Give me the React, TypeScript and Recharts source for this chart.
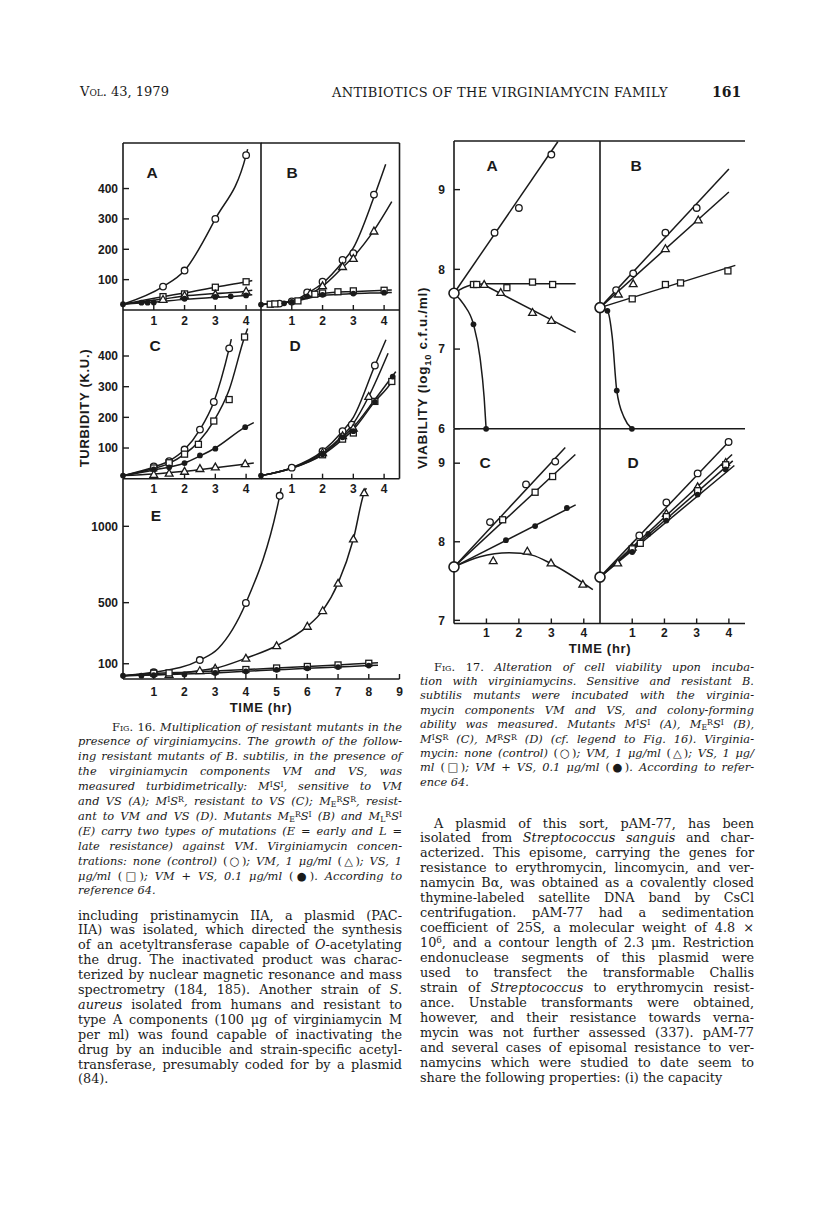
import React from 'react';
import { LineChart, Line, XAxis, YAxis, ReferenceLine } from 'recharts';

type Pt = [number, number];
type Mark = 'circle' | 'triangle' | 'square' | 'dot' | 'start';

const INK = '#1a1a1a';
const SANS = '"Liberation Sans", Arial, Helvetica, sans-serif';
const SERIF = '"DejaVu Serif", "Liberation Serif", serif';

// ---------- Fig. 16: turbidity (K.U.) against time (hr) ----------
const f16Hours = [1, 2, 3, 4];
const f16HoursE = [1, 2, 3, 4, 5, 6, 7, 8, 9];
const f16Turb = [100, 200, 300, 400];
const f16TurbE = [100, 500, 1000];

// panel A (M^I S^I)
const t16A_start: Pt[] = [[0, 19]];
const t16A_ctrl: Pt[] = [[1.3, 77], [2, 130], [3, 300], [4, 510]];
const t16A_ctrlFit: Pt[] = [[0, 19], [1.3, 77], [2, 130], [3, 300], [4, 510], [4.05, 530]];
const t16A_vs: Pt[] = [[1.3, 44], [2, 53], [3, 75], [4, 93]];
const t16A_vsFit: Pt[] = [[0, 19], [1.3, 44], [2, 56], [3, 75], [4, 93], [4.2, 97]];
const t16A_vm: Pt[] = [[1.3, 35], [2, 48], [3, 52], [4, 62]];
const t16A_vmFit: Pt[] = [[0, 19], [1.3, 36], [2, 46], [3, 54], [4, 62], [4.2, 65]];
const t16A_mix: Pt[] = [[0.6, 24], [0.8, 24], [1, 25], [2, 37], [3, 43], [3.5, 45], [4, 48]];
const t16A_mixFit: Pt[] = [[0, 19], [1, 26], [2, 35], [3, 42], [4, 48], [4.2, 50]];

// panel B (M_E^R S^I)
const t16B_start: Pt[] = [[0, 18]];
const t16B_ctrl: Pt[] = [[0.6, 21], [1, 28], [1.5, 58], [2, 93], [2.65, 165], [3, 187], [3.67, 380]];
const t16B_ctrlFit: Pt[] = [[0, 18], [1, 28], [1.5, 55], [2, 88], [2.65, 158], [3, 205], [3.67, 372], [4.05, 480]];
const t16B_vm: Pt[] = [[1.6, 55], [2, 80], [2.65, 143], [3, 170], [3.67, 260]];
const t16B_vmFit: Pt[] = [[0, 18], [1, 28], [1.5, 48], [2, 78], [2.65, 140], [3, 175], [3.67, 262], [4.25, 357]];
const t16B_vs: Pt[] = [[0.3, 19], [0.45, 20], [1.2, 30], [1.75, 52], [2, 56], [2.5, 60], [3, 63], [4, 65]];
const t16B_vsFit: Pt[] = [[0, 18], [1, 28], [2, 54], [3, 61], [4, 65], [4.25, 66]];
const t16B_mix: Pt[] = [[0.75, 22], [1, 27], [1.5, 45], [2, 50], [3, 54], [4, 57]];
const t16B_mixFit: Pt[] = [[0, 18], [1, 27], [2, 48], [3, 54], [4, 57], [4.25, 58]];

// panel C (M^I S^R)
const t16C_start: Pt[] = [[0, 10]];
const t16C_ctrl: Pt[] = [[1, 40], [1.5, 57], [2, 95], [2.5, 160], [2.95, 250], [3.45, 425]];
const t16C_ctrlFit: Pt[] = [[0, 10], [1, 38], [1.5, 58], [2, 95], [2.5, 160], [2.95, 250], [3.45, 425], [3.52, 455]];
const t16C_vs: Pt[] = [[1, 35], [1.5, 52], [2, 80], [2.45, 112], [2.95, 188], [3.45, 258], [3.95, 462]];
const t16C_vsFit: Pt[] = [[0, 10], [1, 33], [1.5, 50], [2, 80], [2.45, 120], [2.95, 188], [3.45, 290], [3.95, 462], [4.05, 490]];
const t16C_mix: Pt[] = [[1, 30], [1.5, 37], [2, 51], [2.5, 76], [3, 98], [3.97, 168]];
const t16C_mixFit: Pt[] = [[0, 10], [1, 28], [2, 51], [2.5, 74], [3, 100], [3.97, 168], [4.25, 183]];
const t16C_vm: Pt[] = [[1, 14], [1.5, 18], [2, 24], [2.5, 33], [3, 38], [3.97, 49]];
const t16C_vmFit: Pt[] = [[0, 10], [1, 15], [2, 24], [3, 36], [4, 48], [4.25, 51]];

// panel D (M_E^R S^R)
const t16D_start: Pt[] = [[0, 10]];
const t16D_ctrl: Pt[] = [[1, 36], [2, 90], [2.65, 155], [2.95, 176], [3.7, 369]];
const t16D_ctrlFit: Pt[] = [[0, 10], [1, 36], [2, 90], [2.65, 155], [3, 200], [3.7, 369], [4.06, 453]];
const t16D_vm: Pt[] = [[2, 85], [2.65, 140], [3, 165], [3.5, 268]];
const t16D_vmFit: Pt[] = [[0, 10], [1, 35], [2, 85], [2.65, 140], [3, 180], [3.5, 268], [4.13, 409]];
const t16D_vs: Pt[] = [[2, 78], [2.65, 129], [3, 149], [3.7, 252], [4.25, 317]];
const t16D_vsFit: Pt[] = [[0, 10], [1, 34], [2, 78], [2.65, 128], [3, 160], [3.7, 252], [4.25, 317], [4.32, 330]];
const t16D_mix: Pt[] = [[2, 80], [2.65, 135], [3, 155], [3.7, 250], [4.28, 333]];
const t16D_mixFit: Pt[] = [[0, 10], [1, 34], [2, 80], [2.65, 135], [3, 168], [3.7, 258], [4.38, 349]];

// panel E (M_L^R S^I)
const t16E_start: Pt[] = [[0, 22]];
const t16E_ctrl: Pt[] = [[1, 44], [2.5, 124], [4, 498], [5.1, 1200]];
const t16E_ctrlFit: Pt[] = [[0, 22], [1, 44], [2.5, 124], [3.1, 200], [4, 498], [5.1, 1200], [5.15, 1250]];
const t16E_vm: Pt[] = [[1.5, 30], [2.5, 55], [3, 70], [4, 136], [5, 218], [6, 345], [6.5, 448], [7, 627], [7.5, 917], [7.85, 1220]];
const t16E_vmFit: Pt[] = [[0, 22], [1, 28], [1.5, 32], [2.5, 55], [3, 70], [4, 136], [5, 218], [6, 345], [6.5, 448], [7, 627], [7.5, 917], [7.85, 1220], [7.92, 1250]];
const t16E_vs: Pt[] = [[1, 38], [1.5, 40], [3, 52], [4, 62], [5, 72], [6, 82], [7, 92], [8, 103]];
const t16E_vsFit: Pt[] = [[0, 22], [1, 36], [2, 45], [3, 53], [4, 62], [5, 72], [6, 82], [7, 92], [8, 103], [8.3, 106]];
const t16E_mix: Pt[] = [[0.6, 22], [1, 25], [2, 30], [3, 40], [4, 50], [5, 60], [6, 70], [7, 78], [8, 88]];
const t16E_mixFit: Pt[] = [[0, 22], [1, 26], [2, 32], [3, 40], [4, 50], [5, 60], [6, 70], [7, 79], [8, 88], [8.3, 90]];

// ---------- Fig. 17: viability (log10 c.f.u./ml) against time (hr) ----------
const f17Hours = [1, 2, 3, 4];
const f17LogTop = [6, 7, 8, 9];
const f17LogBottom = [7, 8, 9];

// panel A
const v17A_start: Pt[] = [[0, 7.7]];
const v17A_ctrl: Pt[] = [[1.25, 8.46], [2, 8.77], [3, 9.44]];
const v17A_ctrlFit: Pt[] = [[0, 7.7], [3.2, 9.6]];
const v17A_vs: Pt[] = [[0.6, 7.81], [0.7, 7.81], [1.63, 7.77], [2.42, 7.84], [3.04, 7.81]];
const v17A_vsFit: Pt[] = [[0, 7.7], [0.5, 7.8], [1, 7.82], [2, 7.82], [3, 7.82], [3.75, 7.82]];
const v17A_vm: Pt[] = [[0.93, 7.81], [1.44, 7.71], [2.42, 7.46], [3.0, 7.36]];
const v17A_vmFit: Pt[] = [[0.9, 7.81], [3.75, 7.21]];
const v17A_mix: Pt[] = [[0.6, 7.31], [0.99, 6.0]];
const v17A_mixFit: Pt[] = [[0, 7.7], [0.3, 7.56], [0.6, 7.31], [0.8, 6.9], [0.93, 6.39], [0.99, 6.0]];

// panel B
const v17B_start: Pt[] = [[0, 7.52]];
const v17B_ctrl: Pt[] = [[0.5, 7.74], [1.03, 7.95], [2.03, 8.46], [3, 8.77]];
const v17B_ctrlFit: Pt[] = [[0, 7.52], [4, 9.26]];
const v17B_vm: Pt[] = [[0.57, 7.69], [1.03, 7.82], [2.03, 8.26], [3.05, 8.62]];
const v17B_vmFit: Pt[] = [[0, 7.52], [4, 8.97]];
const v17B_vs: Pt[] = [[1, 7.63], [2.03, 7.81], [2.5, 7.83], [3.97, 7.98]];
const v17B_vsFit: Pt[] = [[0, 7.52], [4.2, 8.05]];
const v17B_mix: Pt[] = [[0.23, 7.48], [0.52, 6.48], [0.99, 6.0]];
const v17B_mixFit: Pt[] = [[0, 7.52], [0.23, 7.48], [0.38, 7.15], [0.52, 6.48], [0.75, 6.14], [0.99, 6.0]];

// panel C
const v17C_start: Pt[] = [[0, 7.68]];
const v17C_ctrl: Pt[] = [[1.11, 8.25], [2.22, 8.73], [3.12, 9.02]];
const v17C_ctrlFit: Pt[] = [[0, 7.68], [3.43, 9.2]];
const v17C_vs: Pt[] = [[1.5, 8.28], [2.5, 8.63], [3.04, 8.83]];
const v17C_vsFit: Pt[] = [[0, 7.68], [3.74, 9.11]];
const v17C_mix: Pt[] = [[1.6, 8.02], [2.5, 8.2], [3.48, 8.43]];
const v17C_mixFit: Pt[] = [[0, 7.68], [3.75, 8.47]];
const v17C_vm: Pt[] = [[1.21, 7.76], [2.26, 7.88], [2.99, 7.73], [3.97, 7.46]];
const v17C_vmFit: Pt[] = [[0, 7.68], [0.8, 7.81], [1.7, 7.86], [2.4, 7.83], [3.0, 7.72], [4.28, 7.39]];

// panel D
const v17D_start: Pt[] = [[0, 7.55]];
const v17D_ctrl: Pt[] = [[1.22, 8.08], [2.06, 8.5], [3.03, 8.87], [3.99, 9.27]];
const v17D_ctrlFit: Pt[] = [[0, 7.55], [3.99, 9.27]];
const v17D_vm: Pt[] = [[0.55, 7.73], [1, 7.93], [2.06, 8.36], [3.03, 8.7], [3.9, 9.01]];
const v17D_vmFit: Pt[] = [[0, 7.55], [4.1, 9.11]];
const v17D_vs: Pt[] = [[1, 7.91], [1.25, 7.98], [2.06, 8.32], [3.03, 8.65], [3.9, 8.98]];
const v17D_vsFit: Pt[] = [[0, 7.55], [4.12, 9.03]];
const v17D_mix: Pt[] = [[1, 7.87], [1.5, 8.1], [2.06, 8.27], [3.03, 8.6], [3.9, 8.92]];
const v17D_mixFit: Pt[] = [[0, 7.55], [4.17, 8.97]];

// ---------- drawing ----------
interface Series { pts: Pt[]; fit: Pt[]; mark: Mark; curve: 'monotone' | 'linear' }
const S = (pts: Pt[], fit: Pt[], mark: Mark, curve: 'monotone' | 'linear' = 'monotone'): Series => ({ pts, fit, mark, curve });
const xy = (a: Pt[]) => a.map(([x, y]) => ({ x, y }));

function Marker({ cx, cy, kind }: { cx: number; cy: number; kind: Mark }) {
  const sw = 1.3;
  if (kind === 'dot') return <circle cx={cx} cy={cy} r={2.9} fill={INK} />;
  if (kind === 'start') return <circle cx={cx} cy={cy} r={5} fill="#fff" stroke={INK} strokeWidth={1.6} />;
  if (kind === 'square') return <rect x={cx - 3} y={cy - 3} width={6} height={6} fill="#fff" stroke={INK} strokeWidth={sw} />;
  if (kind === 'triangle') {
    const s = 3.9;
    return <polygon points={`${cx},${cy - s} ${cx - s},${cy + s * 0.75} ${cx + s},${cy + s * 0.75}`} fill="#fff" stroke={INK} strokeWidth={sw} />;
  }
  return <circle cx={cx} cy={cy} r={3.3} fill="#fff" stroke={INK} strokeWidth={sw} />;
}

const markDot = (kind: Mark) => (props: any) => {
  const { cx, cy, index } = props;
  if (cx == null || cy == null) return <g key={`m${index}`} />;
  return <Marker key={`m${index}`} cx={cx} cy={cy} kind={kind} />;
};

const TICK = { fill: INK, fontSize: 12, fontWeight: 700, fontFamily: SANS };
const PAD_L = 46, PAD_R = 8, PAD_T = 8, PAD_B = 30;

interface PanelProps {
  x: number; y: number; w: number; h: number;
  xd: [number, number]; yd: [number, number];
  xTicks: number[]; yTicks: number[];
  xLabels: boolean; yLabels: boolean;
  xMargin: number; yMargin: number;
  top?: boolean; right?: boolean;
  series: Series[];
}

function Panel(p: PanelProps) {
  return (
    <div style={{ position: 'absolute', left: p.x - PAD_L, top: p.y - PAD_T }}>
      <LineChart width={p.w + PAD_L + PAD_R} height={p.h + PAD_T + PAD_B} margin={{ top: PAD_T, right: PAD_R, bottom: 0, left: 0 }}>
        <XAxis dataKey="x" type="number" domain={p.xd} ticks={p.xTicks} interval={0} height={PAD_B}
          axisLine={{ stroke: INK, strokeWidth: 1.6 }} tickLine={{ stroke: INK, strokeWidth: 1.4 }}
          tickSize={-5} tickMargin={p.xMargin} tick={p.xLabels ? TICK : false} />
        <YAxis dataKey="y" type="number" domain={p.yd} ticks={p.yTicks} interval={0} width={PAD_L}
          axisLine={{ stroke: INK, strokeWidth: 1.6 }} tickLine={{ stroke: INK, strokeWidth: 1.4 }}
          tickSize={-6} tickMargin={p.yMargin} tick={p.yLabels ? TICK : false} />
        {p.top && <ReferenceLine y={p.yd[1]} stroke={INK} strokeWidth={1.6} />}
        {p.right && <ReferenceLine x={p.xd[1]} stroke={INK} strokeWidth={1.6} />}
        {p.series.filter((s) => s.fit.length > 0).map((s, i) => (
          <Line key={`f${i}`} data={xy(s.fit)} dataKey="y" type={s.curve} stroke={INK} strokeWidth={1.5}
            dot={false} activeDot={false} isAnimationActive={false} />
        ))}
        {p.series.map((s, i) => (
          <Line key={`p${i}`} data={xy(s.pts)} dataKey="y" stroke="none" dot={markDot(s.mark)}
            activeDot={false} isAnimationActive={false} />
        ))}
      </LineChart>
    </div>
  );
}

// ---------- text helpers ----------
const sup = (s: string) => <sup style={{ fontSize: '0.68em', lineHeight: 0, verticalAlign: '0.45em', fontStyle: 'normal' }}>{s}</sup>;
const sub = (s: string) => <sub style={{ fontSize: '0.68em', lineHeight: 0, verticalAlign: '-0.2em', fontStyle: 'normal' }}>{s}</sub>;
const up = (s: string) => <span style={{ fontStyle: 'normal' }}>{s}</span>;
const it = (s: string) => <i>{s}</i>;
const figLabel = (s: string) => <span style={{ fontStyle: 'normal', fontVariant: 'small-caps' }}>{s}</span>;

function Lines({ lines, left, width, top, lh, size, italic, indent = 0 }: {
  lines: React.ReactNode[]; left: number; width: number; top: number; lh: number; size: number; italic?: boolean; indent?: number;
}) {
  return (
    <>
      {lines.map((ln, i) => {
        const last = i === lines.length - 1;
        const ind = i === 0 ? indent : 0;
        return (
          <div key={i} style={{
            position: 'absolute', left: left + ind, width: width - ind, top: top + i * lh - lh / 2, height: lh,
            lineHeight: `${lh}px`, fontSize: size, fontFamily: SERIF, fontStyle: italic ? 'italic' : 'normal',
            textAlign: last ? 'left' : 'justify', textAlignLast: last ? 'left' : 'justify', color: INK, whiteSpace: 'nowrap',
          }}>{ln}</div>
        );
      })}
    </>
  );
}

const cap16: React.ReactNode[] = [
  <>{figLabel('Fig. 16.')} Multiplication of resistant mutants in the</>,
  <>presence of virginiamycins. The growth of the follow-</>,
  <>ing resistant mutants of B. subtilis, in the presence of</>,
  <>the virginiamycin components VM and VS, was</>,
  <>measured turbidimetrically: M{sup('I')}S{sup('I')}, sensitive to VM</>,
  <>and VS (A); M{sup('I')}S{sup('R')}, resistant to VS (C); M{sub('E')}{sup('R')}S{sup('R')}, resist-</>,
  <>ant to VM and VS (D). Mutants M{sub('E')}{sup('R')}S{sup('I')} (B) and M{sub('L')}{sup('R')}S{sup('I')}</>,
  <>(E) carry two types of mutations (E = early and L =</>,
  <>late resistance) against VM. Virginiamycin concen-</>,
  <>trations: none (control) {up('(○)')}; VM, 1 μg/ml {up('(△)')}; VS, 1</>,
  <>μg/ml {up('(□)')}; VM + VS, 0.1 μg/ml {up('(●)')}. According to</>,
  <>reference 64.</>,
];

const cap17: React.ReactNode[] = [
  <>{figLabel('Fig. 17.')} Alteration of cell viability upon incuba-</>,
  <>tion with virginiamycins. Sensitive and resistant B.</>,
  <>subtilis mutants were incubated with the virginia-</>,
  <>mycin components VM and VS, and colony-forming</>,
  <>ability was measured. Mutants M{sup('I')}S{sup('I')} (A), M{sub('E')}{sup('R')}S{sup('I')} (B),</>,
  <>M{sup('I')}S{sup('R')} (C), M{sup('R')}S{sup('R')} (D) (cf. legend to Fig. 16). Virginia-</>,
  <>mycin: none (control) {up('(○)')}; VM, 1 μg/ml {up('(△)')}; VS, 1 μg/</>,
  <>ml {up('(□)')}; VM + VS, 0.1 μg/ml {up('(●)')}. According to refer-</>,
  <>ence 64.</>,
];

const bodyLeft: React.ReactNode[] = [
  <>including pristinamycin IIA, a plasmid (PAC-</>,
  <>IIA) was isolated, which directed the synthesis</>,
  <>of an acetyltransferase capable of {it('O')}-acetylating</>,
  <>the drug. The inactivated product was charac-</>,
  <>terized by nuclear magnetic resonance and mass</>,
  <>spectrometry (184, 185). Another strain of {it('S.')}</>,
  <>{it('aureus')} isolated from humans and resistant to</>,
  <>type A components (100 μg of virginiamycin M</>,
  <>per ml) was found capable of inactivating the</>,
  <>drug by an inducible and strain-specific acetyl-</>,
  <>transferase, presumably coded for by a plasmid</>,
  <>(84).</>,
];

const bodyRight: React.ReactNode[] = [
  <>A plasmid of this sort, pAM-77, has been</>,
  <>isolated from {it('Streptococcus sanguis')} and char-</>,
  <>acterized. This episome, carrying the genes for</>,
  <>resistance to erythromycin, lincomycin, and ver-</>,
  <>namycin Bα, was obtained as a covalently closed</>,
  <>thymine-labeled satellite DNA band by CsCl</>,
  <>centrifugation. pAM-77 had a sedimentation</>,
  <>coefficient of 25S, a molecular weight of 4.8 ×</>,
  <>10{sup('6')}, and a contour length of 2.3 μm. Restriction</>,
  <>endonuclease segments of this plasmid were</>,
  <>used to transfect the transformable Challis</>,
  <>strain of {it('Streptococcus')} to erythromycin resist-</>,
  <>ance. Unstable transformants were obtained,</>,
  <>however, and their resistance towards verna-</>,
  <>mycin was not further assessed (337). pAM-77</>,
  <>and several cases of episomal resistance to ver-</>,
  <>namycins which were studied to date seem to</>,
  <>share the following properties: (i) the capacity</>,
];

const abs = (left: number, top: number, extra: React.CSSProperties = {}): React.CSSProperties => ({
  position: 'absolute', left, top, transform: 'translate(-50%, -50%)', whiteSpace: 'nowrap', color: INK, ...extra,
});
const axisTitle: React.CSSProperties = { fontFamily: SANS, fontWeight: 700, fontSize: 13, letterSpacing: 0.7 };
const letter: React.CSSProperties = { fontFamily: SANS, fontWeight: 700, fontSize: 15.5 };

export default function App() {
  // Fig. 16 geometry
  const c16L = 122.5, c16M = 261, c16W = 138.5;
  const r16a = 143.3, r16b = 310.3, r16c = 479;
  // Fig. 17 geometry
  const c17L = 454, c17M = 600;
  const r17a = 140.7, r17b = 428.5, r17c = 623;

  return (
    <div style={{ position: 'absolute', left: 0, top: 0, width: 816, height: 1213, background: '#fff', overflow: 'hidden' }}>
      {/* running head */}
      <div style={{ position: 'absolute', left: 80, top: 84, fontFamily: SERIF, fontSize: 13, color: INK, fontVariant: 'small-caps' }}>Vol. 43, 1979</div>
      <div style={{ ...abs(500, 92), fontFamily: SERIF, fontSize: 13, letterSpacing: 0.3 }}>ANTIBIOTICS OF THE VIRGINIAMYCIN FAMILY</div>
      <div style={{ position: 'absolute', left: 712, top: 84, fontFamily: SERIF, fontSize: 14, fontWeight: 700, color: INK }}>161</div>

      {/* Fig. 16 */}
      <Panel x={c16L} y={r16a} w={c16W} h={r16b - r16a} xd={[0, 4.5]} yd={[0, 550]} xTicks={f16Hours} yTicks={f16Turb}
        xLabels yLabels xMargin={11} yMargin={11} top
        series={[S(t16A_ctrl, t16A_ctrlFit, 'circle'), S(t16A_vs, t16A_vsFit, 'square'), S(t16A_vm, t16A_vmFit, 'triangle'), S(t16A_mix, t16A_mixFit, 'dot'), S(t16A_start, [], 'dot')]} />
      <Panel x={c16M} y={r16a} w={c16W} h={r16b - r16a} xd={[0, 4.5]} yd={[0, 550]} xTicks={f16Hours} yTicks={f16Turb}
        xLabels yLabels={false} xMargin={11} yMargin={11} top right
        series={[S(t16B_ctrl, t16B_ctrlFit, 'circle'), S(t16B_vm, t16B_vmFit, 'triangle'), S(t16B_vs, t16B_vsFit, 'square'), S(t16B_mix, t16B_mixFit, 'dot'), S(t16B_start, [], 'dot')]} />
      <Panel x={c16L} y={r16b} w={c16W} h={r16c - r16b} xd={[0, 4.5]} yd={[0, 550]} xTicks={f16Hours} yTicks={f16Turb}
        xLabels yLabels xMargin={11} yMargin={11}
        series={[S(t16C_ctrl, t16C_ctrlFit, 'circle'), S(t16C_vs, t16C_vsFit, 'square'), S(t16C_mix, t16C_mixFit, 'dot'), S(t16C_vm, t16C_vmFit, 'triangle'), S(t16C_start, [], 'dot')]} />
      <Panel x={c16M} y={r16b} w={c16W} h={r16c - r16b} xd={[0, 4.5]} yd={[0, 550]} xTicks={f16Hours} yTicks={f16Turb}
        xLabels yLabels={false} xMargin={11} yMargin={11} right
        series={[S(t16D_ctrl, t16D_ctrlFit, 'circle'), S(t16D_vm, t16D_vmFit, 'triangle'), S(t16D_vs, t16D_vsFit, 'square'), S(t16D_mix, t16D_mixFit, 'dot'), S(t16D_start, [], 'dot')]} />
      <Panel x={c16L} y={r16c} w={276.5} h={200} xd={[0, 9]} yd={[0, 1310]} xTicks={f16HoursE} yTicks={f16TurbE}
        xLabels yLabels xMargin={13} yMargin={11}
        series={[S(t16E_ctrl, t16E_ctrlFit, 'circle'), S(t16E_vm, t16E_vmFit, 'triangle'), S(t16E_vs, t16E_vsFit, 'square'), S(t16E_mix, t16E_mixFit, 'dot'), S(t16E_start, [], 'dot')]} />

      <div style={abs(152, 173, letter)}>A</div>
      <div style={abs(292, 173, letter)}>B</div>
      <div style={abs(155, 346, letter)}>C</div>
      <div style={abs(295, 346, letter)}>D</div>
      <div style={abs(156, 516, letter)}>E</div>
      <div style={abs(84, 408, { ...axisTitle, transform: 'translate(-50%, -50%) rotate(-90deg)' })}>TURBIDITY (K.U.)</div>
      <div style={abs(261, 707, axisTitle)}>TIME (hr)</div>

      {/* Fig. 17 */}
      <Panel x={c17L} y={r17a} w={146} h={r17b - r17a} xd={[0, 4.5]} yd={[6, 9.61]} xTicks={f17Hours} yTicks={f17LogTop}
        xLabels={false} yLabels xMargin={10} yMargin={15} top
        series={[S(v17A_ctrl, v17A_ctrlFit, 'circle', 'linear'), S(v17A_vs, v17A_vsFit, 'square'), S(v17A_vm, v17A_vmFit, 'triangle', 'linear'), S(v17A_mix, v17A_mixFit, 'dot'), S(v17A_start, [], 'start')]} />
      <Panel x={c17M} y={r17a} w={145} h={r17b - r17a} xd={[0, 4.5]} yd={[6, 9.61]} xTicks={f17Hours} yTicks={f17LogTop}
        xLabels={false} yLabels={false} xMargin={10} yMargin={15} top
        series={[S(v17B_ctrl, v17B_ctrlFit, 'circle', 'linear'), S(v17B_vm, v17B_vmFit, 'triangle', 'linear'), S(v17B_vs, v17B_vsFit, 'square', 'linear'), S(v17B_mix, v17B_mixFit, 'dot'), S(v17B_start, [], 'start')]} />
      <Panel x={c17L} y={r17b} w={146} h={r17c - r17b} xd={[0, 4.5]} yd={[6.96, 9.435]} xTicks={f17Hours} yTicks={f17LogBottom}
        xLabels yLabels xMargin={10} yMargin={15}
        series={[S(v17C_ctrl, v17C_ctrlFit, 'circle', 'linear'), S(v17C_vs, v17C_vsFit, 'square', 'linear'), S(v17C_mix, v17C_mixFit, 'dot', 'linear'), S(v17C_vm, v17C_vmFit, 'triangle'), S(v17C_start, [], 'start')]} />
      <Panel x={c17M} y={r17b} w={145} h={r17c - r17b} xd={[0, 4.5]} yd={[6.96, 9.435]} xTicks={f17Hours} yTicks={f17LogBottom}
        xLabels yLabels={false} xMargin={10} yMargin={15}
        series={[S(v17D_ctrl, v17D_ctrlFit, 'circle', 'linear'), S(v17D_vm, v17D_vmFit, 'triangle', 'linear'), S(v17D_vs, v17D_vsFit, 'square', 'linear'), S(v17D_mix, v17D_mixFit, 'dot', 'linear'), S(v17D_start, [], 'start')]} />

      <div style={abs(492, 166, letter)}>A</div>
      <div style={abs(636, 166, letter)}>B</div>
      <div style={abs(485, 463, letter)}>C</div>
      <div style={abs(633, 463, letter)}>D</div>
      <div style={abs(424, 378, { ...axisTitle, fontSize: 13.5, transform: 'translate(-50%, -50%) rotate(-90deg)' })}>
        VIABILITY (log<sub style={{ fontSize: '0.7em' }}>10</sub> c.f.u./ml)
      </div>
      <div style={abs(600, 648, axisTitle)}>TIME (hr)</div>

      {/* captions and running text */}
      <Lines lines={cap16} left={78} width={324} top={727} lh={14.9} size={11.4} italic indent={34} />
      <Lines lines={bodyLeft} left={78} width={324} top={916} lh={14.9} size={12.8} />
      <Lines lines={cap17} left={420} width={334} top={666.7} lh={14.4} size={11.4} italic indent={14} />
      <Lines lines={bodyRight} left={420} width={334} top={824} lh={14.95} size={12.8} indent={14} />
    </div>
  );
}
